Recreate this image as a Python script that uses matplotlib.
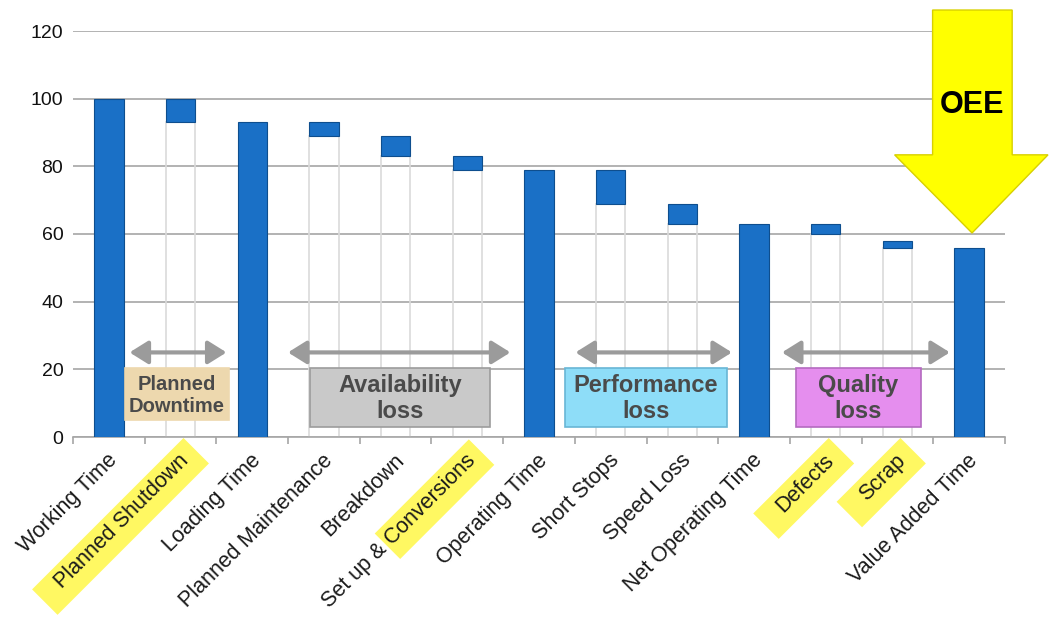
import matplotlib
matplotlib.use("Agg")
import matplotlib.pyplot as plt
from matplotlib.patches import Rectangle, Polygon, FancyArrowPatch
from matplotlib.transforms import Affine2D, IdentityTransform
import numpy as np

categories = ["Working Time", "Planned Shutdown", "Loading Time", "Planned Maintenance",
              "Breakdown", "Set up & Conversions", "Operating Time", "Short Stops",
              "Speed Loss", "Net Operating Time", "Defects", "Scrap", "Value Added Time"]
bar_low = [0, 93, 0, 89, 83, 79, 0, 69, 63, 0, 60, 56, 0]
bar_high = [100, 100, 93, 93, 89, 83, 79, 79, 69, 63, 63, 58, 56]
y_ticks = [0, 20, 40, 60, 80, 100, 120]

# part of a tick label that gets the yellow marker
highlight = {"Planned Shutdown": "Planned Shutdown",
             "Set up & Conversions": "Conversions",
             "Defects": "Defects",
             "Scrap": "Scrap"}

group_names = ["Planned\nDowntime", "Availability\nloss", "Performance\nloss", "Quality\nloss"]

plt.rcParams['font.family'] = ['Liberation Sans', 'DejaVu Sans']

fig = plt.figure(figsize=(10.5, 6.19), dpi=100)
ax = fig.add_axes([73/1050, 1-437/619, (1005-73)/1050, (437-31)/619])

x = np.arange(len(categories))
low = np.array(bar_low)
high = np.array(bar_high)

# invisible "base" bars under the floating losses
fl = low > 0
ax.bar(x[fl], low[fl], width=0.41, color='none', edgecolor='#DADADA', lw=1.2, zorder=1)
ax.bar(x, high - low, bottom=low, width=0.41, color='#1A70C6', edgecolor='#0E4E8E', lw=0.8, zorder=3)

ax.set_xlim(-0.5, len(categories) - 0.5)
ax.set_ylim(0, 120)
ax.set_yticks(y_ticks)
ax.yaxis.grid(True, color='#A6A6A6', lw=1.2)
ax.set_axisbelow(True)
for s in ['left', 'top', 'right']:
    ax.spines[s].set_visible(False)
ax.spines['bottom'].set_color('#A6A6A6')
ax.spines['bottom'].set_linewidth(1.2)
ax.tick_params(axis='y', length=0, pad=7, labelsize=14, labelcolor='#111111')
ax.set_xticks(np.arange(-0.5, len(categories), 1))
ax.set_xticklabels([])
ax.tick_params(axis='x', length=5, color='#A6A6A6', width=1.2)

# rotated category labels, some with a yellow marker behind
renderer = fig.canvas.get_renderer()
for i, name in enumerate(categories):
    px, py = ax.transData.transform((i, 0))
    px, py = px - 2, py - 13
    t = ax.text(px, py, name, transform=IdentityTransform(), rotation=45,
                rotation_mode='anchor', ha='right', va='top', fontsize=15.5,
                color='#1a1a1a', zorder=6, clip_on=False)
    part = highlight.get(name)
    if part:
        prop = t.get_fontproperties()
        w, _, _ = renderer.get_text_width_height_descent(part, prop, ismath=False)
        _, lh, _ = renderer.get_text_width_height_descent("lp", prop, ismath=False)
        padl = 4 if part != name else 22
        padr = 10 if part != name else 12
        r = Rectangle((-w - padl, -lh - 10), w + padl + padr, lh + 15,
                      transform=Affine2D().rotate_deg(45).translate(px, py),
                      fc='#FFF862', ec='none', zorder=5, clip_on=False)
        ax.add_patch(r)

# loss group arrows and boxes
arrows = [(0.25, 1.68), (2.46, 5.64), (6.47, 8.73), (9.35, 11.77)]
boxes = [(0.225, 1.676, 5.0, '#EDD8AE', '#EDD8AE', 14.5),
         (2.805, 5.316, 3.0, '#C9C9C9', '#9C9C9C', 17),
         (6.36, 8.62, 3.0, '#8EDDF8', '#68B6D6', 17),
         (9.58, 11.33, 3.0, '#E58EEE', '#B46AC0', 17)]
for (a0, a1), (b0, b1, bb, fc, ec, fs), label in zip(arrows, boxes, group_names):
    ax.add_patch(FancyArrowPatch((a0, 25), (a1, 25),
                                 arrowstyle='<|-|>,head_length=0.8,head_width=0.5',
                                 mutation_scale=14, lw=3, color='#9B9B9B', zorder=4))
    ax.add_patch(Rectangle((b0, bb), b1 - b0, 20.4 - bb, fc=fc, ec=ec, lw=1.2, zorder=4))
    ax.text((b0 + b1) / 2, (bb + 20.4) / 2 - 0.3, label, ha='center', va='center',
            fontsize=fs, fontweight='bold', color='#4A4A4A', linespacing=1.2, zorder=5)

# big OEE arrow
oee = Polygon([(11.49, 126.2), (12.60, 126.2), (12.60, 83.4), (13.10, 83.4),
               (12.04, 60.3), (10.96, 83.4), (11.49, 83.4)],
              closed=True, fc='#FFFF00', ec='#D8D000', lw=1, zorder=7, clip_on=False)
ax.add_patch(oee)
ax.text(12.04, 98.0, 'OEE', ha='center', va='center', fontsize=22,
        fontweight='bold', color='black', zorder=8)

fig.savefig('out.png', dpi=100)
